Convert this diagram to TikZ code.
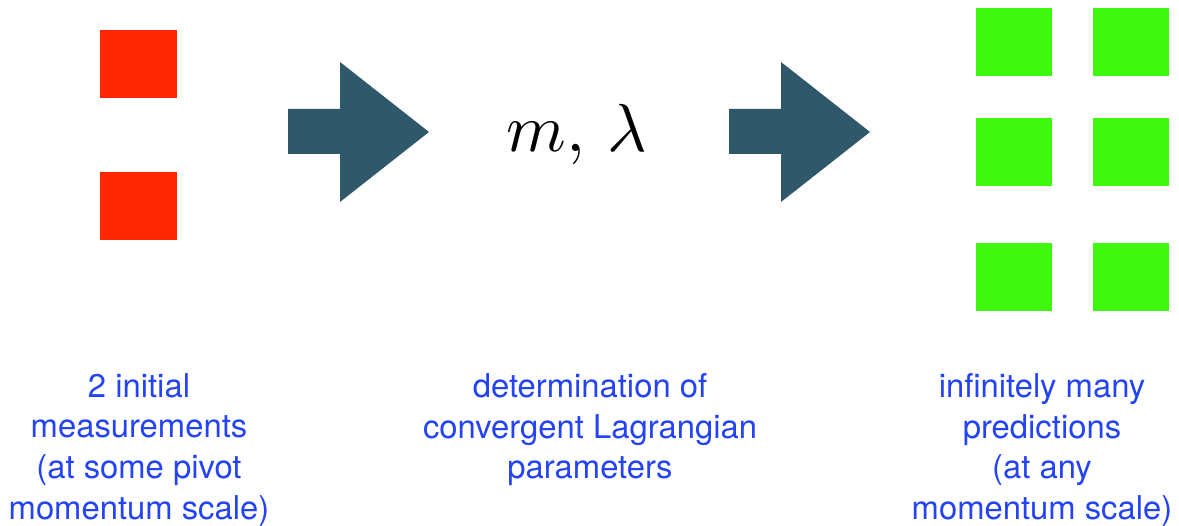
\documentclass[tikz,border=0pt]{standalone}
\usepackage{fontspec}
\newfontfamily\labelfont{TeX Gyre Heros}
\usepackage{tikz}
\usetikzlibrary{positioning}
\definecolor{arrowcol}{HTML}{2F596B}
\definecolor{redsq}{HTML}{FF2600}
\definecolor{greensq}{HTML}{40F70F}
\definecolor{labelblue}{HTML}{2343F5}

\begin{document}
\begin{tikzpicture}[x=1pt,y=-1pt,
    redbox/.style={fill=redsq,draw=none,inner sep=0,minimum width=77pt,minimum height=68pt},
    greenbox/.style={fill=greensq,draw=none,inner sep=0,minimum width=76pt,minimum height=68pt},
    caption/.style={labelblue,align=center,inner sep=0,anchor=north,
        font=\labelfont\fontsize{32.8}{40.8}\selectfont}]
    \useasboundingbox (0,0) rectangle (1179,526);
    % measurements
    \node[redbox] (r1) at (138.5,64.5) {};
    \node[redbox] (r2) at (138.5,206) {};
    % big arrows
    \fill[arrowcol] (288,109) -- (340,109) -- (340,62) -- (429,132) -- (340,202) -- (340,154) -- (288,154) -- cycle;
    \fill[arrowcol] (729,109) -- (781,109) -- (781,62) -- (870,132) -- (781,202) -- (781,154) -- (729,154) -- cycle;
    % parameters
    \node[anchor=base,inner sep=0,scale=6.8] (params) at (577,152) {$m,\,\lambda$};
    % predictions
    \node[greenbox] (g1) at (1014,42) {};
    \node[greenbox] (g2) at (1131,42) {};
    \node[greenbox] (g3) at (1014,152) {};
    \node[greenbox] (g4) at (1131,152) {};
    \node[greenbox] (g5) at (1014,277) {};
    \node[greenbox] (g6) at (1131,277) {};
    % captions
    \node[caption] (capl) at (139,373) {2 initial\\measurements\\(at some pivot\\momentum scale)};
    \node[caption] (capm) at (590,373) {determination of\\convergent Lagrangian\\parameters};
    \node[caption] (capr) at (1042,373) {infinitely many\\predictions\\(at any\\momentum scale)};
\end{tikzpicture}
\end{document}
